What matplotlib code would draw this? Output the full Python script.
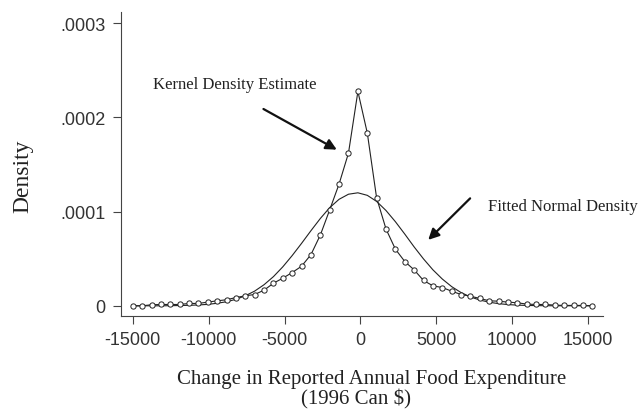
import matplotlib
matplotlib.use('Agg')
import matplotlib.pyplot as plt
import numpy as np

# evaluation grid (Can $)
x_grid = [-15000, -14380, -13760, -13150, -12530, -11910, -11290, -10680, -10060, -9440,
          -8820, -8200, -7590, -6970, -6350, -5730, -5120, -4500, -3880, -3260,
          -2640, -2030, -1410, -790, -170, 450, 1060, 1680, 2300, 2920,
          3530, 4150, 4770, 5390, 6010, 6620, 7240, 7860, 8480, 9090,
          9710, 10330, 10950, 11570, 12180, 12800, 13420, 14040, 14650, 15270]

# kernel density estimate, in units of 1e-6
kde_e6 = [0.0, 0.0, 1.1, 1.4, 1.4, 1.4, 2.5, 2.5, 3.9, 5.3,
          6.4, 8.8, 10.6, 12.0, 16.6, 24.0, 29.3, 35.3, 42.0, 54.4,
          75.3, 101.8, 129.3, 162.2, 227.6, 183.4, 114.8, 81.6, 60.1, 47.0,
          38.2, 26.9, 21.2, 19.4, 15.5, 12.0, 10.2, 7.8, 5.3, 4.9,
          3.9, 3.2, 1.8, 1.4, 1.4, 0.7, 0.4, 0.4, 0.4, 0.0]

# fitted normal density, in units of 1e-6
normal_e6 = [0.0, 0.0, 0.0, 0.0, 0.1, 0.3, 0.5, 0.9, 1.5, 2.7,
             4.3, 6.9, 10.6, 15.6, 22.4, 31.0, 41.3, 53.3, 66.3, 79.8,
             92.8, 104.2, 113.1, 118.5, 120.0, 117.3, 110.9, 101.2, 89.3, 76.1,
             62.6, 49.8, 38.2, 28.4, 20.3, 14.1, 9.4, 6.1, 3.8, 2.3,
             1.3, 0.7, 0.4, 0.2, 0.1, 0.0, 0.0, 0.0, 0.0, 0.0]

x_ticks = [-15000, -10000, -5000, 0, 5000, 10000, 15000]
x_tick_labels = ['-15000', '-10000', '-5000', '0', '5000', '10000', '15000']
y_ticks = [0, 0.0001, 0.0002, 0.0003]
y_tick_labels = ['0', '.0001', '.0002', '.0003']

serif = 'Liberation Serif'
sans = 'Liberation Sans'
ink = '#333333'

fig = plt.figure(figsize=(6.4, 4.1), dpi=100)
# axes box placed in pixels to follow the original page
ax = fig.add_axes([121 / 640, 1 - 316.5 / 410, (603 - 121) / 640, (316.5 - 13) / 410])

kde = np.array(kde_e6) * 1e-6
normal = np.array(normal_e6) * 1e-6

ax.plot(x_grid, normal, color='#222222', lw=0.8)
ax.plot(x_grid, kde, color='#222222', lw=0.8, marker='o', ms=3.8,
        mfc='white', mec='#222222', mew=0.7)

ax.set_xlim(-15770, 15970)
ax.set_ylim(-10.3e-6, 3.12e-4)

ax.set_xticks(x_ticks)
ax.set_xticklabels(x_tick_labels, fontfamily=sans, fontsize=13, color=ink)
ax.set_yticks(y_ticks)
ax.set_yticklabels(y_tick_labels, fontfamily=sans, fontsize=13, color=ink)
ax.tick_params(length=6, width=0.8, color='#444444', pad=5)

for side in ['top', 'right']:
    ax.spines[side].set_visible(False)
for side in ['left', 'bottom']:
    ax.spines[side].set_color('#444444')
    ax.spines[side].set_linewidth(0.8)

ax.text(-13690, 2.355e-4, 'Kernel Density Estimate', fontfamily=serif,
        fontsize=12, color='#222222', va='center', ha='left')
ax.annotate('', xy=(-1560, 1.658e-4), xytext=(-6390, 2.09e-4),
            arrowprops=dict(arrowstyle='-|>', color='#111111', lw=1.6,
                            mutation_scale=16, shrinkA=0, shrinkB=0))

ax.text(8400, 1.062e-4, 'Fitted Normal Density', fontfamily=serif,
        fontsize=12, color='#222222', va='center', ha='left')
ax.annotate('', xy=(4460, 0.70e-4), xytext=(7220, 1.141e-4),
            arrowprops=dict(arrowstyle='-|>', color='#111111', lw=1.6,
                            mutation_scale=16, shrinkA=0, shrinkB=0))

fig.text(23 / 640, 1 - 176 / 410, 'Density', fontfamily=serif, fontsize=17,
         color='#222222', rotation=90, ha='center', va='center')
fig.text(372 / 640, 1 - 380 / 410, 'Change in Reported Annual Food Expenditure',
         fontfamily=serif, fontsize=15, color='#222222', ha='center', va='center')
fig.text(356 / 640, 1 - 399 / 410, '(1996 Can $)', fontfamily=serif, fontsize=15,
         color='#222222', ha='center', va='center')

fig.savefig('out.png', dpi=100)
